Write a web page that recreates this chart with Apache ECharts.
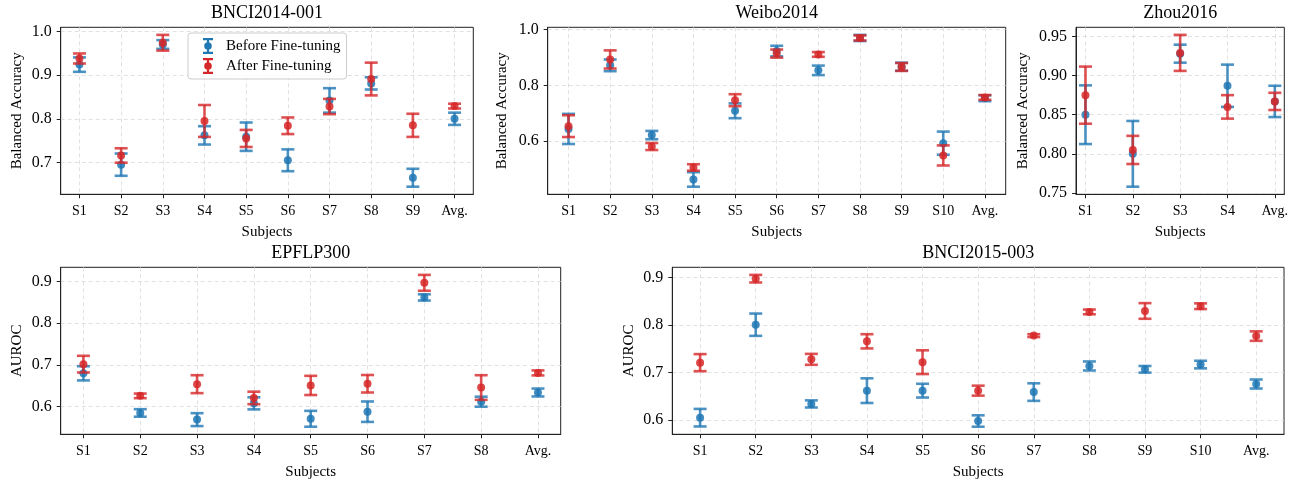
<!DOCTYPE html>
<html><head><meta charset="utf-8">
<script src="https://cdn.jsdelivr.net/npm/echarts@6/dist/echarts.min.js"></script>
<style>html,body{margin:0;padding:0;background:#fff}#c{width:1302px;height:484px}</style>
</head><body><div id="c"></div>
<script>
// ---------- DATA ----------
const bnci14Cats = ['S1','S2','S3','S4','S5','S6','S7','S8','S9','Avg.'];
const bnci14Before    = [0.924, 0.695, 0.970, 0.762, 0.759, 0.705, 0.842, 0.881, 0.665, 0.800];
const bnci14BeforeStd = [0.0165,0.0255,0.010, 0.021, 0.0325,0.025, 0.028, 0.014, 0.0205,0.014];
const bnci14After     = [0.938, 0.716, 0.974, 0.795, 0.755, 0.784, 0.828, 0.891, 0.785, 0.829];
const bnci14AfterStd  = [0.0115,0.0165,0.018, 0.0365,0.0195,0.019, 0.0175,0.0375,0.0265,0.0055];
const bnci14YTicks = [0.7, 0.8, 0.9, 1.0];

const weiboCats = ['S1','S2','S3','S4','S5','S6','S7','S8','S9','S10','Avg.'];
const weiboBefore    = [0.644, 0.872, 0.622, 0.463, 0.709, 0.923, 0.854, 0.970, 0.867, 0.593, 0.754];
const weiboBeforeStd = [0.054, 0.021, 0.015, 0.026, 0.0265,0.019, 0.017, 0.011, 0.0145,0.0415,0.0105];
const weiboAfter     = [0.654, 0.893, 0.581, 0.506, 0.747, 0.914, 0.911, 0.970, 0.866, 0.549, 0.757];
const weiboAfterStd  = [0.039, 0.0325,0.0125,0.0115,0.0215,0.0145,0.0085,0.009, 0.014, 0.036, 0.0085];
const weiboYTicks = [0.6, 0.8, 1.0];

const zhouCats = ['S1','S2','S3','S4','Avg.'];
const zhouBefore    = [0.850, 0.800, 0.928, 0.887, 0.867];
const zhouBeforeStd = [0.0375,0.042, 0.0115,0.027, 0.020];
const zhouAfter     = [0.875, 0.805, 0.929, 0.860, 0.867];
const zhouAfterStd  = [0.0365,0.018, 0.023, 0.015, 0.011];
const zhouYTicks = [0.75, 0.80, 0.85, 0.90, 0.95];

const epflCats = ['S1','S2','S3','S4','S5','S6','S7','S8','Avg.'];
const epflBefore    = [0.680, 0.585, 0.569, 0.608, 0.571, 0.588, 0.862, 0.612, 0.634];
const epflBeforeStd = [0.017, 0.009, 0.0155,0.0145,0.019, 0.0245,0.0075,0.012, 0.0095];
const epflAfter     = [0.702, 0.626, 0.654, 0.621, 0.651, 0.655, 0.897, 0.646, 0.681];
const epflAfterStd  = [0.020, 0.0055,0.0215,0.015, 0.023, 0.021, 0.019, 0.0295,0.006];
const epflYTicks = [0.6, 0.7, 0.8, 0.9];

const bnci15Cats = ['S1','S2','S3','S4','S5','S6','S7','S8','S9','S10','Avg.'];
const bnci15Before    = [0.605, 0.801, 0.634, 0.662, 0.662, 0.598, 0.659, 0.714, 0.707, 0.717, 0.676];
const bnci15BeforeStd = [0.0185,0.0235,0.0075,0.026, 0.0145,0.012, 0.0185,0.0095,0.007, 0.008, 0.0095];
const bnci15After     = [0.721, 0.898, 0.728, 0.766, 0.722, 0.662, 0.778, 0.828, 0.830, 0.840, 0.777];
const bnci15AfterStd  = [0.018, 0.008, 0.0115,0.015, 0.025, 0.0105,0.003, 0.005, 0.0165,0.006, 0.010];
const bnci15YTicks = [0.6, 0.7, 0.8, 0.9];

const seriesNames = ['Before Fine-tuning', 'After Fine-tuning'];

// ---------- STYLE / LAYOUT ----------
const FONT = '"Liberation Serif", "DejaVu Serif", serif';
const BLUE = '#1f77b4', RED = '#d62728';
const panels = [
  {title:'BNCI2014-001', cats:bnci14Cats, b:bnci14Before, bs:bnci14BeforeStd, a:bnci14After, as:bnci14AfterStd,
   yTicks:bnci14YTicks, step:0.1, dec:1, yName:'Balanced Accuracy', yGap:36,
   grid:{left:60.7, top:27.3, width:412.6, height:167}},
  {title:'Weibo2014', cats:weiboCats, b:weiboBefore, bs:weiboBeforeStd, a:weiboAfter, as:weiboAfterStd,
   yTicks:weiboYTicks, step:0.2, dec:1, yName:'Balanced Accuracy', yGap:38,
   grid:{left:547.7, top:27.3, width:458, height:167}},
  {title:'Zhou2016', cats:zhouCats, b:zhouBefore, bs:zhouBeforeStd, a:zhouAfter, as:zhouAfterStd,
   yTicks:zhouYTicks, step:0.05, dec:2, yName:'Balanced Accuracy', yGap:45,
   grid:{left:1076, top:27.3, width:208.3, height:167}},
  {title:'EPFLP300', cats:epflCats, b:epflBefore, bs:epflBeforeStd, a:epflAfter, as:epflAfterStd,
   yTicks:epflYTicks, step:0.1, dec:1, yName:'AUROC', yGap:36,
   grid:{left:60.7, top:267.3, width:500, height:167}},
  {title:'BNCI2015-003', cats:bnci15Cats, b:bnci15Before, bs:bnci15BeforeStd, a:bnci15After, as:bnci15AfterStd,
   yTicks:bnci15YTicks, step:0.1, dec:1, yName:'AUROC', yGap:36,
   grid:{left:672.3, top:267.3, width:611.7, height:167}}
];

function makeRender(color) {
  return function (params, api) {
    const x = api.value(0), m = api.value(1), s = api.value(2);
    const p = api.coord([x, m]), t = api.coord([x, m + s]), b = api.coord([x, m - s]);
    const cw = 6.5, lw = 2.6;
    const st = {stroke: color, lineWidth: lw, opacity: 0.8};
    return {type: 'group', children: [
      {type: 'line', shape: {x1: t[0], y1: t[1], x2: b[0], y2: b[1]}, style: st},
      {type: 'line', shape: {x1: t[0] - cw, y1: t[1], x2: t[0] + cw, y2: t[1]}, style: st},
      {type: 'line', shape: {x1: b[0] - cw, y1: b[1], x2: b[0] + cw, y2: b[1]}, style: st},
      {type: 'circle', shape: {cx: p[0], cy: p[1], r: 4}, style: {fill: color, opacity: 0.85}}
    ]};
  };
}

const grids = [], xAxes = [], yAxes = [], series = [], graphics = [];
panels.forEach((P, i) => {
  const n = P.cats.length;
  const idx = P.cats.map((c, k) => k);
  let lo = Infinity, hi = -Infinity;
  [[P.b, P.bs], [P.a, P.as]].forEach(([m, s]) => m.forEach((v, k) => {
    lo = Math.min(lo, v - s[k]); hi = Math.max(hi, v + s[k]);
  }));
  const pad = 0.05 * (hi - lo);
  grids.push(Object.assign({show: true, borderColor: '#222', borderWidth: 1, outerBoundsMode: 'none'}, P.grid));
  xAxes.push({
    gridIndex: i, type: 'value', min: -0.05 * (n - 1), max: (n - 1) * 1.05, minInterval: 1, maxInterval: 1,
    axisLine: {show: true, onZero: false, lineStyle: {color: '#222', width: 1}},
    axisTick: {show: true, customValues: idx, length: 4, lineStyle: {color: '#222'}},
    axisLabel: {customValues: idx, formatter: v => P.cats[Math.round(v)], fontSize: 14, fontFamily: FONT, color: '#000', margin: 10},
    splitLine: {show: true, lineStyle: {color: '#d9d9d9', width: 0.8, type: [4, 3]}},
    name: 'Subjects', nameLocation: 'middle', nameGap: 30,
    nameTextStyle: {fontSize: 15, fontFamily: FONT, color: '#000'}
  });
  yAxes.push({
    gridIndex: i, type: 'value', min: lo - pad, max: hi + pad, minInterval: P.step, maxInterval: P.step,
    axisLine: {show: true, onZero: false, lineStyle: {color: '#222', width: 1}},
    axisTick: {show: true, customValues: P.yTicks, length: 4, lineStyle: {color: '#222'}},
    axisLabel: {customValues: P.yTicks, formatter: v => v.toFixed(P.dec), fontSize: 16, fontFamily: FONT, color: '#000', margin: 9},
    splitLine: {show: true, lineStyle: {color: '#d9d9d9', width: 0.8, type: [4, 3]}},
    name: P.yName, nameLocation: 'middle', nameGap: P.yGap,
    nameTextStyle: {fontSize: 15, fontFamily: FONT, color: '#000'}
  });
  [[P.b, P.bs, BLUE, seriesNames[0]], [P.a, P.as, RED, seriesNames[1]]].forEach(([m, s, col, name]) => {
    series.push({
      type: 'custom', name: name, xAxisIndex: i, yAxisIndex: i,
      itemStyle: {color: col},
      renderItem: makeRender(col),
      encode: {x: 0, y: [1]},
      data: m.map((v, k) => [k, v, s[k]])
    });
  });
  graphics.push({
    type: 'text', x: P.grid.left + P.grid.width / 2, y: P.grid.top - 14,
    style: {text: P.title, fontSize: 18, fontFamily: FONT, fill: '#000', align: 'center', verticalAlign: 'middle'}
  });
});

const ICON = 'path://M0,0 L100,0 L100,22 L0,22 Z M0,138 L100,138 L100,160 L0,160 Z M39,0 L61,0 L61,160 L39,160 Z M88,80 A38,38 0 1,1 12,80 A38,38 0 1,1 88,80 Z';

const chart = echarts.init(document.getElementById('c'), null, {renderer: 'canvas'});
chart.setOption({
  animation: false,
  backgroundColor: '#fff',
  grid: grids, xAxis: xAxes, yAxis: yAxes, series: series,
  graphic: graphics,
  legend: {
    data: seriesNames, selectedMode: false, orient: 'vertical',
    left: 188, top: 33, padding: [5, 6, 5, 15],
    icon: ICON, itemWidth: 10, itemHeight: 16, itemGap: 4,
    backgroundColor: 'rgba(255,255,255,0.85)', borderColor: '#cccccc', borderWidth: 1, borderRadius: 3,
    textStyle: {fontSize: 15, fontFamily: FONT, color: '#000', padding: [0, 0, 0, 8]}
  }
});
</script></body></html>
